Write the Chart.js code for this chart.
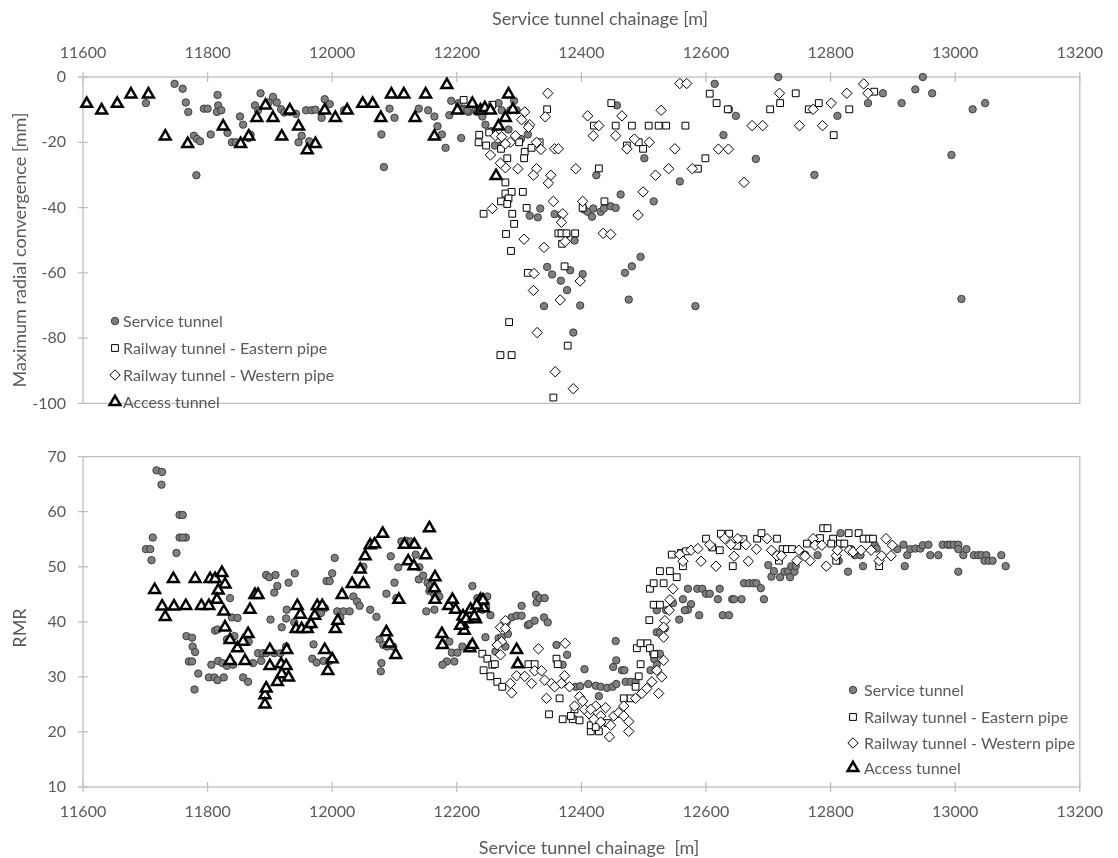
<!DOCTYPE html>
<html><head><meta charset="utf-8">
<script src="https://cdn.jsdelivr.net/npm/chart.js@4.4.1/dist/chart.umd.min.js"></script>
<style>
html,body{margin:0;padding:0;background:#fff;}
#wrap{position:relative;width:1118px;height:858px;overflow:hidden;}
#c1{position:absolute;left:0;top:0;}
#c2{position:absolute;left:0;top:430px;}
</style></head><body>
<div id="wrap"><canvas id="c1" width="1118" height="430"></canvas><canvas id="c2" width="1118" height="428"></canvas></div>
<script>
// ---------- tick labels ----------
const xTicks = [11600,11800,12000,12200,12400,12600,12800,13000,13200];
const convTicks = [-100,-80,-60,-40,-20,0];
const rmrTicks = [10,20,30,40,50,60,70];
const seriesNames = ['Service tunnel','Railway tunnel - Eastern pipe','Railway tunnel - Western pipe','Access tunnel'];
const xTitle = 'Service tunnel chainage [m]';
const xTitleBottom = 'Service tunnel chainage  [m]';
const convTitle = 'Maximum radial convergence [mm]';
const rmrTitle = 'RMR';

// ---------- top panel: maximum radial convergence [mm] ----------
const convService = [[11701,-8.0],[11747,-2.1],[11760,-3.6],[11765,-7.8],[11769,-10.7],[11782,-30.1],[11778,-18.0],[11783,-19.0],[11788,-19.7],[11794,-9.7],[11800,-9.7],[11805,-17.6],[11816,-5.5],[11817,-8.7],[11815,-10.7],[11822,-10.2],[11832,-17.1],[11839,-20],[11845,-20],[11852,-12.1],[11857,-14.6],[11866,-18.7],[11869,-17.7],[11876,-8.7],[11885,-5],[11881,-10.2],[11898,-7.8],[11905,-6.1],[11911,-7.8],[11918,-9.9],[11923,-10.9],[11932,-10.7],[11942,-11.3],[11951,-18.0],[11946,-20],[11963,-19.7],[11958,-10.2],[11967,-10.2],[11973,-10],[11983,-12.5],[11988,-6.8],[11996,-8.3],[12019,-10.2],[12079,-17.6],[12083,-27.6],[12092,-9.7],[12100,-12.5],[12139,-9.7],[12154,-10.2],[12164,-12.1],[12169,-15.1],[12176,-17.6],[12182,-21.7],[12191,-7.3],[12203,-8.0],[12207,-18.7],[12212,-9.7],[12219,-10.7],[12230,-10.2],[12241,-12.1],[12246,-14.6],[12255,-16.6],[12267,-8.0],[12272,-10.2],[12286,-10.2],[12292,-7.3],[12296,-10.2],[12283,-16.1],[12270,-21],[12209,-10.2],[12217,-10.2],[12233,-10.7],[12188,-11.7],[12261,-21],[12303,-19],[12314,-17.6],[12457,-8.7],[12501,-24.9],[12424,-30.1],[12558,-32],[12463,-36],[12516,-38.1],[12334,-40.3],[12317,-42.5],[12330,-43],[12357,-42],[12368,-42.3],[12376,-48.1],[12389,-50.1],[12404,-40.6],[12410,-41.3],[12417,-42.8],[12419,-40.3],[12431,-41.3],[12436,-40.3],[12447,-39.6],[12455,-40.1],[12495,-55.1],[12481,-58],[12470,-60],[12345,-58.2],[12353,-60.5],[12367,-62.4],[12382,-59.2],[12402,-60.4],[12377,-65.3],[12340,-70.2],[12398,-70],[12476,-68.2],[12583,-70.2],[12387,-78.3],[12614,-2.1],[12716,0],[12648,-11.9],[12637,-9.9],[12628,-17.8],[12680,-25.1],[12774,-30],[12811,-11.9],[12860,-8.0],[12884,-5],[12914,-8],[12936,-3.8],[12948,0],[12963,-5],[13028,-9.9],[13048,-8],[12994,-23.9],[13010,-68]];
const convEast = [[12211,-7.0],[12257,-8.5],[12345,-9.9],[12236,-17.7],[12235,-20],[12247,-21],[12252,-17],[12271,-22],[12281,-24.9],[12309,-22.9],[12308,-24.9],[12333,-20],[12320,-21.7],[12300,-20],[12278,-32.3],[12278,-35.7],[12288,-35.2],[12306,-35.2],[12271,-38.1],[12283,-37.2],[12281,-38.9],[12243,-41.9],[12289,-41.9],[12292,-45],[12312,-40.1],[12279,-48.1],[12287,-53.3],[12363,-47.9],[12368,-47.9],[12376,-47.9],[12390,-47.9],[12369,-51.1],[12373,-58],[12314,-60],[12284,-75.1],[12378,-82.3],[12270,-85.2],[12288,-85.2],[12355,-98.2],[12428,-28],[12402,-40.1],[12437,-38.1],[12448,-8],[12420,-14.9],[12455,-14.9],[12481,-14.9],[12508,-14.9],[12524,-14.9],[12536,-14.9],[12567,-14.9],[12473,-21],[12499,-22],[12492,-20],[12599,-24.9],[12587,-28.1],[12606,-5.1],[12617,-8],[12635,-9.9],[12703,-9.9],[12719,-8],[12744,-5],[12765,-9.9],[12781,-8],[12805,-17.8],[12830,-9.9],[12870,-4.5]];
const convWest = [[12346,-5],[12309,-10.7],[12342,-12.2],[12317,-14.6],[12315,-15.4],[12304,-13.1],[12294,-18],[12286,-20],[12278,-20.5],[12328,-20],[12335,-22.2],[12357,-22],[12363,-22],[12262,-18],[12272,-18.3],[12278,-27.8],[12298,-28.1],[12328,-28.1],[12323,-30.1],[12351,-30.1],[12347,-32.5],[12391,-28.1],[12257,-40.3],[12355,-38.1],[12370,-41.9],[12368,-44.5],[12308,-49.7],[12340,-52.2],[12374,-50.4],[12402,-38.1],[12435,-47.9],[12447,-48.2],[12324,-60.2],[12398,-62.5],[12323,-65.4],[12366,-68.3],[12329,-78.3],[12358,-90.3],[12387,-95.5],[12410,-11.9],[12428,-14.9],[12419,-18],[12465,-11.9],[12455,-18],[12485,-19],[12473,-22],[12509,-20],[12528,-10.2],[12550,-22],[12540,-28.1],[12519,-30.1],[12499,-35.2],[12491,-42.3],[12578,-28.1],[12558,-2],[12569,-2],[12254,-23.9],[12270,-26.4],[12718,-5],[12674,-14.9],[12691,-14.9],[12620,-22.1],[12636,-22.1],[12661,-32.3],[12750,-14.9],[12787,-14.9],[12772,-9.9],[12801,-8],[12826,-5],[12853,-2.1],[12860,-5]];
const convAccess = [[11606,-8.2],[11630,-10.2],[11655,-8.2],[11677,-5.3],[11705,-5.3],[11732,-18.2],[11768,-20.5],[11825,-15.1],[11853,-20.5],[11866,-18.2],[11879,-12.5],[11893,-8.7],[11905,-12.5],[11919,-18.2],[11932,-10.2],[11946,-15.1],[11960,-22.4],[11973,-20.5],[11988,-10.2],[12005,-12.5],[12024,-10.2],[12049,-8.2],[12065,-8.2],[12078,-12.5],[12095,-5.3],[12115,-5.3],[12133,-12.5],[12150,-5.3],[12164,-18.2],[12184,-2.4],[12201,-10.2],[12225,-8.2],[12238,-10.2],[12245,-9.5],[12254,-10.2],[12263,-30.3],[12267,-15.1],[12278,-12.5],[12283,-5.3],[12290,-10]];

// ---------- bottom panel: RMR ----------
const rmrService = [[11718,67.5],[11727,67.2],[11726,64.9],[11755,59.4],[11760,59.4],[11755,55.3],[11765,55.3],[11760,55.3],[11712,55.3],[11701,53.2],[11708,53.2],[11710,51.2],[11750,52.5],[12004,51.6],[12094,51.9],[12106,49.9],[12111,54.6],[12119,54.7],[12126,54.6],[12134,52.2],[12140,49.9],[12050,50],[11991,47.4],[11996,47.4],[12000,48.8],[12100,47.1],[12139,47.7],[12146,48.4],[12153,47.1],[12157,46.5],[12156,45.6],[12225,46.5],[11894,48.5],[11899,48.1],[11909,48.5],[11940,48.8],[11930,47.1],[11912,46.5],[11907,45.3],[11836,44.3],[11839,40.8],[11848,40.7],[11812,38.4],[11816,38.6],[11831,36.8],[11843,37.4],[11866,36.4],[11766,37.4],[11775,37.1],[11776,35.5],[11780,34.5],[11770,32.8],[11775,32.8],[11785,30.6],[11779,27.7],[11802,29.9],[11811,29.9],[11816,29.4],[11826,29.9],[11806,32.2],[11817,32.9],[11824,32.5],[11831,32],[11841,32.2],[11857,29.9],[11865,29.1],[11873,32.5],[11886,32.9],[11881,34.3],[11889,34.3],[11894,34.3],[11907,34.3],[11917,34.3],[11926,35.5],[11919,39],[11901,40.4],[11927,42.2],[11939,39.9],[11926,40.6],[11966,39.3],[11970,35.9],[11968,33.3],[11975,32.6],[11986,32.9],[11996,32.9],[11982,41.6],[11988,42.5],[12008,41.9],[12013,40.8],[12018,41.9],[12028,41.9],[12034,44.6],[12040,43.7],[12044,42.9],[12061,42.2],[12071,40.9],[12076,36.8],[12082,35.8],[12088,35.5],[12098,35.5],[12079,32.5],[12078,31],[12087,45.1],[12103,44.3],[12164,44.9],[12172,44.6],[12164,42.2],[12151,41.9],[12188,36.4],[12192,34.4],[12201,34.4],[12184,32.8],[12177,32.2],[12196,32.8],[12209,35.5],[12233,44.3],[12238,43.1],[12249,44.6],[12254,41.2],[12247,42.6],[12241,42.2],[12246,37.2],[12262,34.6],[12267,37],[12272,37.2],[12282,37.8],[12278,35.5],[12280,39.9],[12288,40.8],[12296,41.1],[12304,41.1],[12304,42.9],[12314,39.4],[12317,39.6],[12325,40.2],[12327,44.9],[12328,43.5],[12333,44.3],[12341,44.3],[12340,40.8],[12346,39.9],[12360,35.8],[12377,34],[12370,32.2],[12455,36.5],[12456,33],[12451,31.8],[12465,31.2],[12469,31.2],[12405,31.4],[12428,26.5],[12391,28.2],[12398,28.3],[12411,28.7],[12423,28.4],[12431,28.2],[12441,28],[12450,28.2],[12456,28.7],[12471,29.1],[12479,29.1],[12487,29.1],[12515,34.2],[12521,34.2],[12526,34.2],[12517,33.2],[12521,32.2],[12511,31.2],[12521,38.1],[12526,38],[12534,38.8],[12521,42.1],[12536,42.1],[12547,43.4],[12557,40.4],[12563,44.1],[12576,43.2],[12571,42.2],[12566,42.1],[12571,46],[12586,46],[12594,46],[12600,45.1],[12606,45.1],[12622,46],[12619,44.1],[12642,44.1],[12645,44.1],[12657,44.1],[12693,44.1],[12627,41.2],[12637,41.2],[12589,41.2],[12661,47],[12669,47],[12676,47],[12681,47],[12688,46.1],[12816,56.1],[12700,50.3],[12705,48.2],[12709,49.2],[12719,48.1],[12726,49.1],[12732,49.2],[12735,48.1],[12737,50.1],[12742,49.1],[12744,50.1],[12759,52.2],[12779,52.1],[12813,51.1],[12828,49.1],[12852,50.1],[12871,53.9],[12874,53.3],[12907,53.2],[12917,54],[12923,52.1],[12919,50.1],[12928,53.2],[12936,53.3],[12944,53.3],[12948,53.9],[12957,54],[12960,52.1],[12973,52.1],[12980,54],[12988,54],[12992,54],[12998,54],[13005,54],[13005,53.2],[13013,52.1],[13018,53.2],[13005,49.1],[13030,52.1],[13037,52.1],[13042,52.1],[13050,52.1],[13047,51.1],[13054,51.1],[13060,51.1],[13074,52.1],[13081,50.1],[12839,52.1],[12848,52.1],[12833,53.2]];
const rmrEast = [[12241,34.2],[12249,33.3],[12257,32.2],[12261,32.3],[12243,31.2],[12254,30.1],[12265,29.1],[12273,28.2],[12365,26.1],[12348,23.2],[12386,22.3],[12415,20.1],[12428,20.1],[12360,33.3],[12362,32.3],[12315,32.3],[12325,32.3],[12389,24.1],[12397,22.1],[12489,35.2],[12495,36.1],[12506,36.1],[12495,32.3],[12492,30.1],[12487,28.2],[12510,46],[12516,47],[12532,47],[12526,49.2],[12542,49.2],[12553,48.1],[12509,40.3],[12516,43.1],[12526,43.1],[12545,52.2],[12563,50.1],[12600,55.1],[12624,56],[12637,56],[12622,53],[12643,50.1],[12682,55.1],[12689,56.1],[12510,35.2],[12517,34.1],[12415,21.2],[12423,20.9],[12442,21.6],[12370,22.3],[12383,22.9],[12468,26.1],[12479,26.1],[12560,52.5],[12568,52.8],[12610,53.5],[12650,53.8],[12660,55],[12714,55.1],[12723,53.2],[12730,53.2],[12738,53.2],[12762,54.2],[12788,57],[12795,57],[12804,55.1],[12809,51.1],[12829,56.1],[12845,56.1],[12853,55.1],[12862,55.1],[12868,55.1],[12878,50.1],[12717,51.1],[12780,54.2],[12801,54.2],[12815,54.2],[12822,54.2],[12783,55.2]];
const rmrWest = [[12278,40.2],[12270,39],[12278,38.8],[12272,36.4],[12265,35.8],[12270,34],[12286,28.8],[12288,27.1],[12296,30.2],[12309,30.1],[12320,28.8],[12331,35.1],[12325,31.1],[12336,31.1],[12341,29.4],[12352,28.8],[12344,26.1],[12357,28.2],[12368,28.8],[12374,36.1],[12381,28.2],[12373,30.2],[12397,26.4],[12405,24.1],[12413,23.2],[12423,24.7],[12431,22.9],[12439,24.4],[12445,19.1],[12452,22.9],[12460,23.5],[12468,24.7],[12476,21.9],[12476,20.1],[12487,26.1],[12497,27],[12505,27.9],[12513,29.1],[12524,27],[12529,30],[12532,33],[12521,31.2],[12547,46],[12542,44],[12541,42.1],[12534,40.2],[12532,39],[12558,52.2],[12563,51],[12576,53],[12587,53.3],[12592,51],[12606,54],[12616,50.1],[12630,55.1],[12640,54],[12651,55.1],[12645,51.9],[12664,54],[12668,51],[12681,53.2],[12698,55.1],[12532,37.2],[12389,24.7],[12402,25.6],[12415,24.1],[12420,22.3],[12431,21.8],[12447,21.2],[12468,22.9],[12705,53],[12714,52],[12721,52],[12749,53],[12746,51.1],[12767,51.1],[12772,55.1],[12759,51.9],[12775,53.9],[12786,53.9],[12793,50.1],[12809,52],[12811,53],[12830,53],[12836,52.7],[12849,53],[12865,53],[12878,51.1],[12882,52],[12889,55.1],[12899,53.9],[12897,52]];
const rmrAccess = [[12053,51.9],[12061,53.9],[12068,54.1],[12081,56],[12116,54],[12132,54],[12122,51],[12131,50.1],[12150,52.1],[12156,57],[11715,45.8],[11745,47.8],[11780,47.8],[11804,47.8],[11812,47.8],[11823,48.9],[11828,46.8],[11817,45.7],[11727,42.8],[11746,42.8],[11765,42.9],[11790,42.9],[11802,42.9],[11815,44],[11826,41.9],[11732,40.9],[11828,39],[11836,36.7],[11848,35.2],[11857,36.4],[11865,37.8],[11860,32.9],[11836,32.9],[11868,42.2],[11876,44.9],[11881,44.9],[11892,26.7],[11892,25],[11894,27.9],[11900,32],[11900,34.9],[11912,29.1],[11918,32.3],[11919,30.5],[11926,32],[11930,29.9],[11927,34.9],[11944,42.9],[11949,41.3],[11942,38.7],[11951,38.7],[11960,38.7],[11966,39.6],[11972,41.1],[11976,42.9],[11984,42.9],[11988,34.9],[11993,31.1],[12000,33.2],[12005,38.7],[12009,40.2],[12016,44.9],[12032,46.9],[12045,49.5],[12050,46.9],[12087,38.1],[12092,36.1],[12102,34],[12107,44],[12165,48.1],[12165,44],[12164,46.1],[12176,37.8],[12177,35.8],[12187,42.9],[12193,44],[12198,42.2],[12222,42.2],[12221,35.2],[12225,35.8],[12209,39.6],[12212,38.4],[12230,40.5],[12238,44],[12243,42.5],[12296,34.9],[12298,32.3],[12242,43.9],[12206,39.3],[12210,41],[12215,40.5],[12228,41],[12232,43]];

// ---------- styles ----------
const GRAY = '#595959';
const FRAME = '#bfbfbf';
const FONT = 'Lato';
const styles = [
  {pointStyle:'circle', radius:3.7, backgroundColor:'#7f7f7f', borderColor:'#3c3c3c', borderWidth:1},
  {pointStyle:'rect', radius:4.8, backgroundColor:'#ffffff', borderColor:'#000000', borderWidth:1},
  {pointStyle:'rectRot', radius:5.2, backgroundColor:'#ffffff', borderColor:'#000000', borderWidth:1},
  {pointStyle:'triangle', radius:6.2, backgroundColor:'#ffffff', borderColor:'#000000', borderWidth:2.5}
];
const orders = [4,3,2,1];

function makeDatasets(lists){
  return lists.map((arr,i)=>({
    label: seriesNames[i],
    data: arr.map(p=>({x:p[0], y:p[1]})),
    showLine:false,
    pointStyle: styles[i].pointStyle,
    pointRadius: styles[i].radius,
    pointHoverRadius: styles[i].radius,
    pointBackgroundColor: styles[i].backgroundColor,
    pointBorderColor: styles[i].borderColor,
    pointBorderWidth: styles[i].borderWidth,
    order: orders[i],
    clip: false
  }));
}

const decoPlugin = {
  id:'deco',
  beforeDatasetsDraw(chart, args, o){
    const {ctx, chartArea:a, scales:{x, y}} = chart;
    ctx.save();
    ctx.strokeStyle = FRAME; ctx.lineWidth = 1.3;
    ctx.strokeRect(a.left, a.top, a.right-a.left, a.bottom-a.top);
    const axY = o.xTop ? a.top : a.bottom;
    ctx.beginPath();
    x.ticks.forEach(t=>{ const px = x.getPixelForValue(t.value); ctx.moveTo(px, axY-5); ctx.lineTo(px, axY+5); });
    y.ticks.forEach(t=>{ const py = y.getPixelForValue(t.value); ctx.moveTo(a.left-5, py); ctx.lineTo(a.left+5, py); });
    ctx.stroke();
    ctx.restore();
  },
  afterDraw(chart, args, o){
    const {ctx} = chart;
    ctx.save();
    ctx.fillStyle = GRAY;
    ctx.textAlign='center'; ctx.textBaseline='middle';
    ctx.font = '18px ' + FONT;
    ctx.fillText(o.xTitle, o.xTitleX, o.xTitleY);
    ctx.translate(o.yTitleX, o.yTitleY); ctx.rotate(-Math.PI/2);
    ctx.fillText(o.yTitle, 0, 0);
    ctx.restore();
    // legend
    ctx.save();
    ctx.font = '16px ' + FONT;
    ctx.textAlign='left'; ctx.textBaseline='middle';
    o.legendRows.forEach((ry, i)=>{
      const st = styles[i];
      ctx.fillStyle = st.backgroundColor; ctx.strokeStyle = st.borderColor; ctx.lineWidth = st.borderWidth;
      Chart.helpers.drawPoint(ctx, {pointStyle:st.pointStyle, radius:st.radius, borderWidth:st.borderWidth}, o.legendMarkerX, ry);
      ctx.fillStyle = GRAY;
      ctx.fillText(seriesNames[i], o.legendTextX, ry+1);
    });
    ctx.restore();
  }
};

function commonTicks(pad){
  return {padding:pad, color:GRAY, font:{family:FONT, size:16}, autoSkip:false, maxRotation:0, callback:v=>String(v)};
}

Chart.defaults.font.family = FONT;
Chart.defaults.color = GRAY;

new Chart(document.getElementById('c1'), {
  type:'scatter',
  data:{datasets: makeDatasets([convService, convEast, convWest, convAccess])},
  options:{
    responsive:false, animation:false, devicePixelRatio:1,
    layout:{padding:{left:0, top:0, right:28, bottom:12}},
    plugins:{legend:{display:false}, tooltip:{enabled:false},
      deco:{xTop:true, xTitle:xTitle, xTitleX:600, xTitleY:19, yTitle:convTitle, yTitleX:20, yTitleY:250,
        legendRows:[321,348,375,402], legendMarkerX:115, legendTextX:123}},
    scales:{
      x:{type:'linear', position:'top', min:11600, max:13200,
        afterBuildTicks:s=>{ s.ticks = xTicks.map(v=>({value:v})); },
        afterFit:s=>{ s.height = 77; },
        grid:{display:false, drawTicks:false}, border:{display:false},
        ticks:commonTicks(15)},
      y:{type:'linear', min:-100, max:0,
        afterBuildTicks:s=>{ s.ticks = convTicks.map(v=>({value:v})); },
        afterFit:s=>{ s.width = 83; },
        grid:{display:false, drawTicks:false}, border:{display:false},
        ticks:commonTicks(17)}
    }
  },
  plugins:[decoPlugin]
});

new Chart(document.getElementById('c2'), {
  type:'scatter',
  data:{datasets: makeDatasets([rmrService, rmrEast, rmrWest, rmrAccess])},
  options:{
    responsive:false, animation:false, devicePixelRatio:1,
    layout:{padding:{left:0, top:15, right:28, bottom:0}},
    plugins:{legend:{display:false}, tooltip:{enabled:false},
      deco:{xTop:false, xTitle:xTitleBottom, xTitleX:589, xTitleY:418, yTitle:rmrTitle, yTitleX:20, yTitleY:198,
        legendRows:[260,287,313,338], legendMarkerX:853, legendTextX:864}},
    scales:{
      x:{type:'linear', position:'bottom', min:11600, max:13200,
        afterBuildTicks:s=>{ s.ticks = xTicks.map(v=>({value:v})); },
        afterFit:s=>{ s.height = 71; },
        grid:{display:false, drawTicks:false}, border:{display:false},
        ticks:commonTicks(15)},
      y:{type:'linear', min:10, max:70,
        afterBuildTicks:s=>{ s.ticks = rmrTicks.map(v=>({value:v})); },
        afterFit:s=>{ s.width = 83; },
        grid:{display:false, drawTicks:false}, border:{display:false},
        ticks:commonTicks(17)}
    }
  },
  plugins:[decoPlugin]
});
</script>
</body></html>
